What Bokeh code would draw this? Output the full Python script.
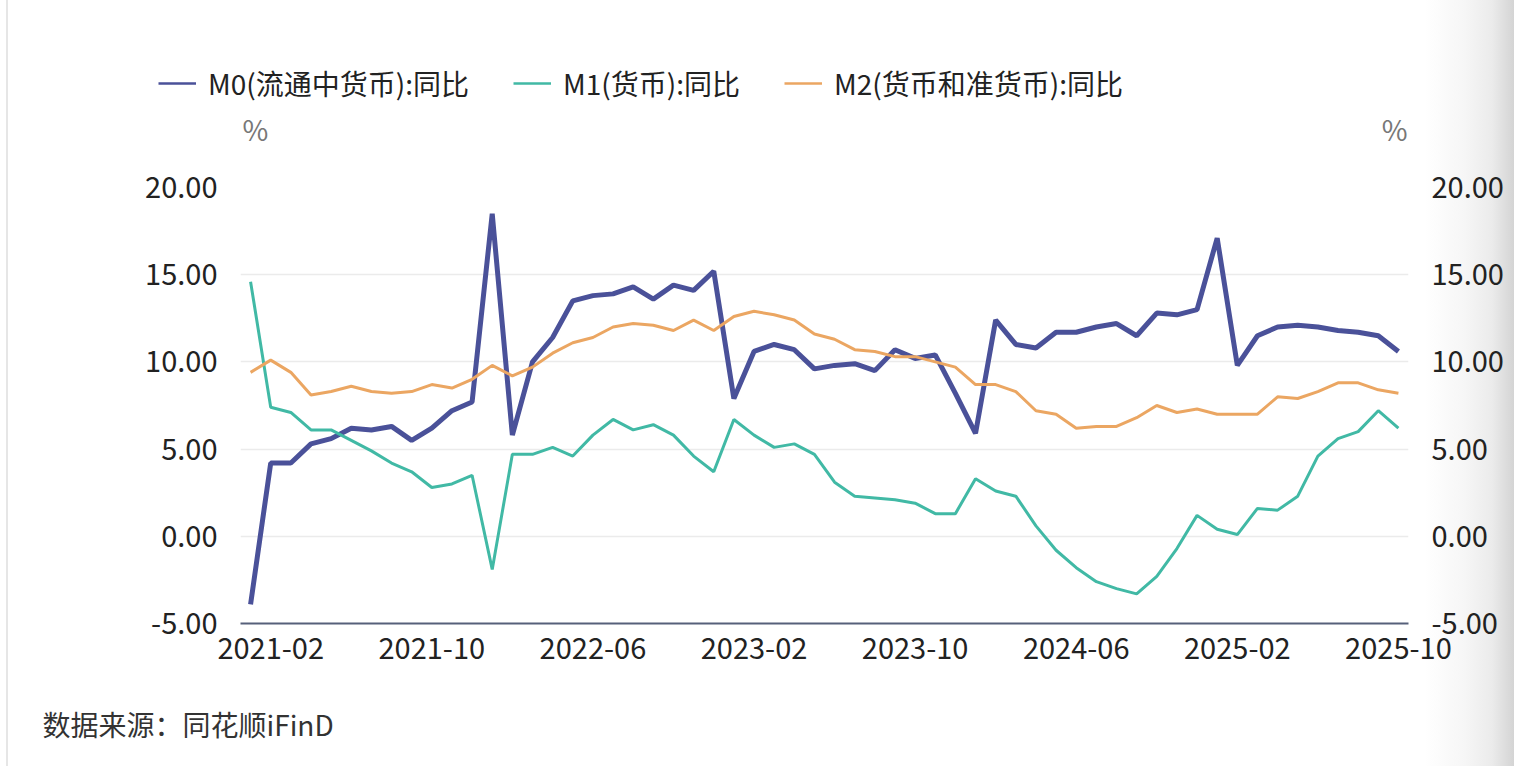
from bokeh.plotting import figure
from bokeh.layouts import column
from bokeh.models import (Range1d, LinearAxis, FixedTicker, NumeralTickFormatter,
                          Legend, LegendItem, Label)
from bokeh.embed import file_html
from bokeh.resources import INLINE

# ---------------- data ----------------
months = [
    "2021-01", "2021-02", "2021-03", "2021-04", "2021-05", "2021-06", "2021-07", "2021-08", "2021-09", "2021-10", "2021-11", "2021-12",
    "2022-01", "2022-02", "2022-03", "2022-04", "2022-05", "2022-06", "2022-07", "2022-08", "2022-09", "2022-10", "2022-11", "2022-12",
    "2023-01", "2023-02", "2023-03", "2023-04", "2023-05", "2023-06", "2023-07", "2023-08", "2023-09", "2023-10", "2023-11", "2023-12",
    "2024-01", "2024-02", "2024-03", "2024-04", "2024-05", "2024-06", "2024-07", "2024-08", "2024-09", "2024-10", "2024-11", "2024-12",
    "2025-01", "2025-02", "2025-03", "2025-04", "2025-05", "2025-06", "2025-07", "2025-08", "2025-09", "2025-10",
]
m0 = [-3.9, 4.2, 4.2, 5.3, 5.6, 6.2, 6.1, 6.3, 5.5, 6.2, 7.2, 7.7,
      18.5, 5.8, 10.0, 11.4, 13.5, 13.8, 13.9, 14.3, 13.6, 14.4, 14.1, 15.2,
      7.9, 10.6, 11.0, 10.7, 9.6, 9.8, 9.9, 9.5, 10.7, 10.2, 10.4, 8.2,
      5.9, 12.4, 11.0, 10.8, 11.7, 11.7, 12.0, 12.2, 11.5, 12.8, 12.7, 13.0,
      17.1, 9.8, 11.5, 12.0, 12.1, 12.0, 11.8, 11.7, 11.5, 10.6]
m1 = [14.6, 7.4, 7.1, 6.1, 6.1, 5.5, 4.9, 4.2, 3.7, 2.8, 3.0, 3.5,
      -1.9, 4.7, 4.7, 5.1, 4.6, 5.8, 6.7, 6.1, 6.4, 5.8, 4.6, 3.7,
      6.7, 5.8, 5.1, 5.3, 4.7, 3.1, 2.3, 2.2, 2.1, 1.9, 1.3, 1.3,
      3.3, 2.6, 2.3, 0.6, -0.8, -1.8, -2.6, -3.0, -3.3, -2.3, -0.7, 1.2,
      0.4, 0.1, 1.6, 1.5, 2.3, 4.6, 5.6, 6.0, 7.2, 6.2]
m2 = [9.4, 10.1, 9.4, 8.1, 8.3, 8.6, 8.3, 8.2, 8.3, 8.7, 8.5, 9.0,
      9.8, 9.2, 9.7, 10.5, 11.1, 11.4, 12.0, 12.2, 12.1, 11.8, 12.4, 11.8,
      12.6, 12.9, 12.7, 12.4, 11.6, 11.3, 10.7, 10.6, 10.3, 10.3, 10.0, 9.7,
      8.7, 8.7, 8.3, 7.2, 7.0, 6.2, 6.3, 6.3, 6.8, 7.5, 7.1, 7.3,
      7.0, 7.0, 7.0, 8.0, 7.9, 8.3, 8.8, 8.8, 8.4, 8.2]
tick_labels = ["2021-02", "2021-10", "2022-06", "2023-02", "2023-10", "2024-06", "2025-02", "2025-10"]
y_ticks = [-5, 0, 5, 10, 15, 20]
series_names = ["M0(流通中货币):同比", "M1(货币):同比", "M2(货币和准货币):同比"]
colors = ["#4a5199", "#41b9a5", "#eba662"]
unit_text = "%"
source_text = "数据来源：同花顺iFinD"

FONT = "Noto Sans CJK SC"
x = list(range(len(months)))
tick_pos = [months.index(t) for t in tick_labels]
NAN = float("nan")

# geometry (canvas pixels, whole-page canvas coordinates)
W, H = 1514, 766
HEAD = 150                  # header strip: legend + unit labels
FOOT_TOP = 683              # footer strip starts here: source note
FL, FR = 240, 1408          # frame left / right
FT, FB = 187, 623           # frame top (20.00) / bottom (-5.00)


def strip(height):
    f = figure(width=W, height=height, output_backend="svg", toolbar_location=None, title=None,
               x_axis_location=None, y_axis_location=None,
               x_range=Range1d(0, W), y_range=Range1d(0, height),
               min_border_left=0, min_border_right=0, min_border_top=0, min_border_bottom=0)
    if "frame_align" in f.properties():
        f.frame_align = False
    f.outline_line_color = None
    f.grid.visible = False
    f.background_fill_alpha = 0
    f.border_fill_alpha = 0
    return f


# ---------------- header (legend + "%") ----------------
head = strip(HEAD)
items = []
for col, name in zip(colors, series_names):
    dummy = head.line([NAN], [NAN], line_color=col, line_width=2.5)
    items.append(LegendItem(label=name, renderers=[dummy]))
legend = Legend(items=items, orientation="horizontal", location=(158, HEAD - 103),
                glyph_width=38, glyph_height=20, label_standoff=12, spacing=44,
                padding=0, margin=0, border_line_color=None, background_fill_alpha=0,
                label_text_font=FONT, label_text_font_size="28px", label_text_color="#222222")
head.add_layout(legend)

for lx, align in ((FL + 2, "left"), (FR - 1, "right")):
    head.add_layout(Label(x=lx, y=HEAD - 128, x_units="screen", y_units="screen", text=unit_text,
                          text_font=FONT, text_font_size="28px", text_color="#777777",
                          text_align=align, text_baseline="middle"))

# ---------------- main chart ----------------
MH = FOOT_TOP - HEAD
p = figure(width=W, height=MH, output_backend="svg", toolbar_location=None,
           x_range=Range1d(-0.5, len(months) - 0.5), y_range=Range1d(y_ticks[0], y_ticks[-1]),
           min_border_left=FL, min_border_right=W - FR,
           min_border_top=FT - HEAD, min_border_bottom=FOOT_TOP - FB)
if "frame_align" in p.properties():
    p.frame_align = False
p.outline_line_color = None
p.background_fill_color = "#ffffff"
p.border_fill_alpha = 0

xa = p.xaxis[0]
xa.ticker = FixedTicker(ticks=tick_pos)
xa.major_label_overrides = {pos: lab for pos, lab in zip(tick_pos, tick_labels)}
xa.axis_line_color = "#56607a"
xa.axis_line_width = 2
xa.major_tick_line_color = None
xa.minor_tick_line_color = None
xa.major_label_text_font = FONT
xa.major_label_text_font_size = "29px"
xa.major_label_text_color = "#222222"
xa.major_label_standoff = 8

ya = p.yaxis[0]
yr = LinearAxis()
p.add_layout(yr, "right")
for ax in (ya, yr):
    ax.ticker = FixedTicker(ticks=y_ticks)
    ax.formatter = NumeralTickFormatter(format="0.00")
    ax.axis_line_color = None
    ax.major_tick_line_color = None
    ax.minor_tick_line_color = None
    ax.major_label_text_font = FONT
    ax.major_label_text_font_size = "29px"
    ax.major_label_text_color = "#222222"
    ax.major_label_standoff = 17

p.xgrid.grid_line_color = None
p.ygrid.ticker = FixedTicker(ticks=y_ticks)
p.ygrid.grid_line_color = "#ebebeb"
p.ygrid.grid_line_width = 1.5

widths = [5, 3, 3]
for vals, col, w in zip([m0, m1, m2], colors, widths):
    p.line(x, vals, line_color=col, line_width=w)

# ---------------- footer (source note) ----------------
FH = H - FOOT_TOP
foot = strip(FH)
foot.add_layout(Label(x=42, y=FH - (723 - FOOT_TOP), x_units="screen", y_units="screen",
                      text=source_text, text_font=FONT, text_font_size="28px",
                      text_color="#333333", text_align="left", text_baseline="middle"))

page = column(head, p, foot, spacing=0)
page.styles = {
    "background": "linear-gradient(to right, rgba(0,0,0,0) 6px, #e6e6e6 6px, #e6e6e6 8px, rgba(0,0,0,0) 8px), "
                  "linear-gradient(to right, #ffffff 0px, #ffffff 1425px, #f6f6f6 1465px, #ebebeb 1492px, #d4d4d4 1514px)"
}

open("out.html", "w").write(file_html(page, INLINE))
